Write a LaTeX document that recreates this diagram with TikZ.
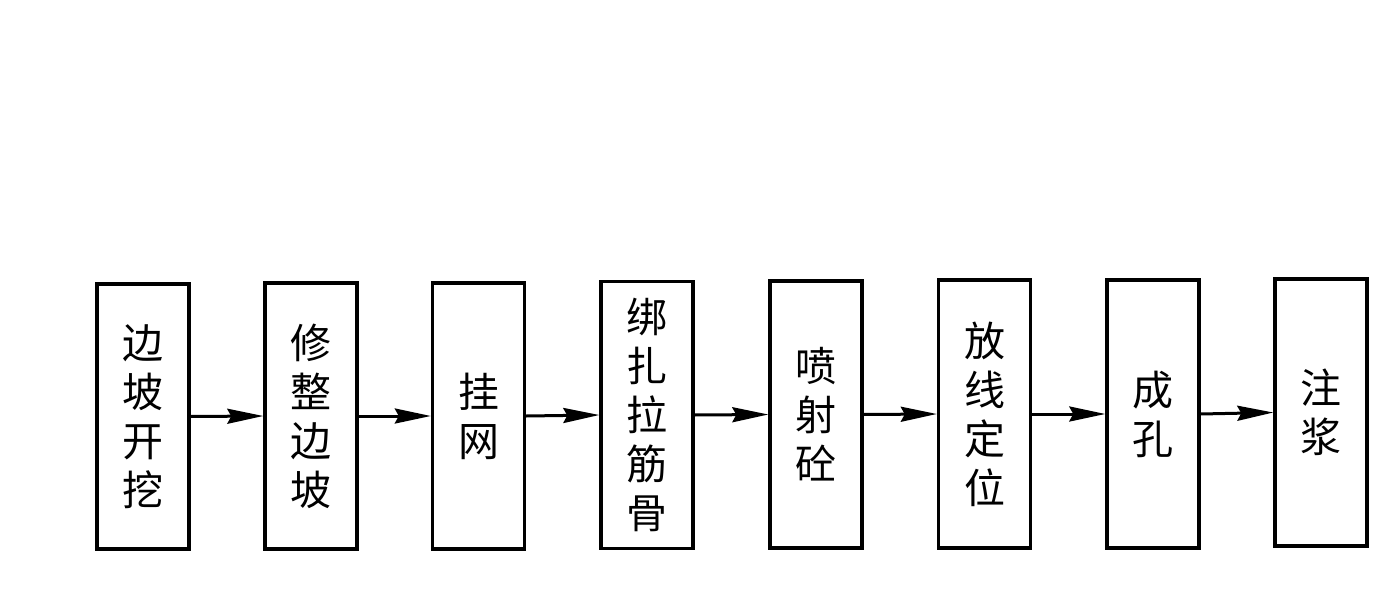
\documentclass[tikz,border=0pt]{standalone}
\usepackage{fontspec}
\newfontfamily\cjk{Noto Sans CJK SC}
\usetikzlibrary{arrows.meta}
\begin{document}
\begin{tikzpicture}[x=1pt,y=-1pt,
  stepbox/.style={draw=black,line width=3.4pt,minimum width=92pt,inner sep=0pt,align=center,
    font=\cjk\fontsize{41}{49}\selectfont},
  flow/.style={line width=3pt,-{Stealth[length=36pt,width=15pt,inset=4pt]}}]
\useasboundingbox (0,0) rectangle (1395,607);
\node[stepbox,minimum height=265pt] (b1) at (143,416.5) {边\\坡\\开\\挖};
\node[stepbox,minimum height=266pt] (b2) at (311,416) {修\\整\\边\\坡};
\node[stepbox,minimum height=266pt] (b3) at (478.5,416) {挂\\网};
\node[stepbox,minimum height=267pt] (b4) at (647,415) {绑\\扎\\拉\\筋\\骨};
\node[stepbox,minimum height=267pt] (b5) at (816,414.5) {喷\\射\\砼};
\node[stepbox,minimum height=268pt] (b6) at (984.5,414) {放\\线\\定\\位};
\node[stepbox,minimum height=268pt] (b7) at (1153,414) {成\\孔};
\node[stepbox,minimum height=267pt] (b8) at (1321,412.5) {注\\浆};
\draw[flow] (b1.east) -- (b2.west);
\draw[flow] (b2.east) -- (b3.west);
\draw[flow] (b3.east) -- (b4.west);
\draw[flow] (b4.east) -- (b5.west);
\draw[flow] (b5.east) -- (b6.west);
\draw[flow] (b6.east) -- (b7.west);
\draw[flow] (b7.east) -- (b8.west);
\end{tikzpicture}
\end{document}
